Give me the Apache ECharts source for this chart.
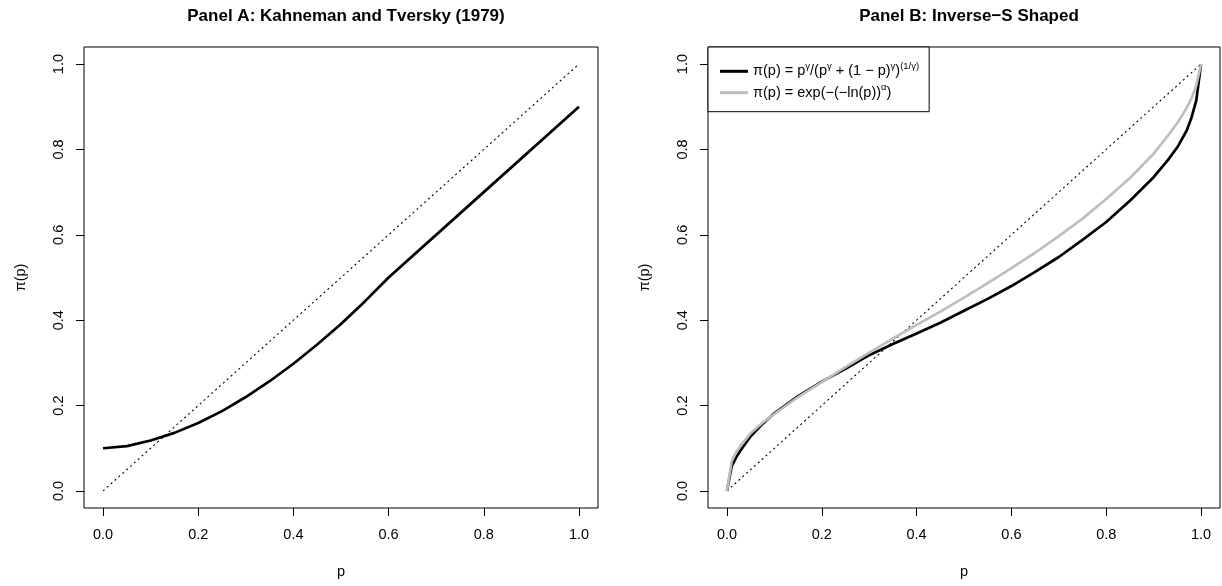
<!DOCTYPE html>
<html>
<head>
<meta charset="utf-8">
<script src="https://cdn.jsdelivr.net/npm/echarts@6/dist/echarts.min.js"></script>
<style>
  body { margin: 0; background: #fff; }
  #weighting { width: 1222px; height: 586px; }
</style>
</head>
<body>
<div id="weighting"></div>
<script>
// tick values shared by both panels
var tickValues = [0, 0.2, 0.4, 0.6, 0.8, 1.0];

// Panel A: Kahneman and Tversky (1979)
var ktP  = [0, 0.05, 0.10, 0.15, 0.20, 0.25, 0.30, 0.35, 0.40, 0.45, 0.50, 0.55, 0.60, 0.80, 1.00];
var ktPi = [0.100, 0.105, 0.118, 0.136, 0.159, 0.187, 0.220, 0.257, 0.298, 0.343, 0.391, 0.444, 0.500, 0.700, 0.900];

// Panel B: inverse-S curves
var invP     = [0, 0.01, 0.02, 0.03, 0.05, 0.075, 0.10, 0.15, 0.20, 0.25, 0.30, 0.35, 0.40, 0.45, 0.50, 0.55, 0.60, 0.65, 0.70, 0.75, 0.80, 0.85, 0.90, 0.93, 0.95, 0.97, 0.98, 0.99, 1.00];
var tkPi     = [0, 0.058, 0.080, 0.097, 0.128, 0.157, 0.182, 0.222, 0.256, 0.286, 0.318, 0.344, 0.369, 0.394, 0.422, 0.450, 0.480, 0.513, 0.548, 0.588, 0.630, 0.680, 0.735, 0.775, 0.805, 0.845, 0.875, 0.915, 1.000];
var prelecPi = [0, 0.070, 0.092, 0.108, 0.135, 0.160, 0.180, 0.220, 0.255, 0.290, 0.324, 0.357, 0.389, 0.420, 0.453, 0.487, 0.522, 0.558, 0.597, 0.638, 0.684, 0.733, 0.790, 0.832, 0.862, 0.898, 0.920, 0.950, 1.000];

// 45 degree reference line
var diagP = [0, 1];

function pairs(xs, ys) {
    return xs.map(function (x, i) { return [x, ys[i]]; });
}

var FONT = '"Liberation Sans", Arial, Helvetica, sans-serif';
var chart = echarts.init(document.getElementById('weighting'));

function makeAxis(idx, isX) {
    return {
        type: 'value',
        gridIndex: idx,
        min: -0.04,
        max: 1.04,
        name: isX ? 'p' : 'π(p)',
        nameLocation: 'middle',
        nameGap: 56,
        nameTextStyle: { fontFamily: FONT, fontSize: 14.5, color: '#000' },
        axisLine: { show: false, onZero: false },
        axisTick: {
            show: true, inside: false, length: 8,
            customValues: tickValues,
            lineStyle: { color: '#000', width: 1 }
        },
        axisLabel: {
            customValues: tickValues,
            rotate: isX ? 0 : 90,
            margin: isX ? 19 : 18,
            fontFamily: FONT, fontSize: 14.5, color: '#000',
            formatter: function (v) { return v.toFixed(1); }
        },
        splitLine: { show: false }
    };
}

var option = {
    animation: false,
    backgroundColor: '#fff',
    title: [
        {
            text: 'Panel A: Kahneman and Tversky (1979)',
            left: 341, top: 3, textAlign: 'center',
            textStyle: { fontFamily: FONT, fontSize: 17, fontWeight: 'bold', color: '#000' }
        },
        {
            text: 'Panel B: Inverse−S Shaped',
            left: 964, top: 3, textAlign: 'center',
            textStyle: { fontFamily: FONT, fontSize: 17, fontWeight: 'bold', color: '#000' }
        }
    ],
    grid: [
        { left: 84, top: 47, width: 514, height: 461, show: true, borderColor: '#000', borderWidth: 1, backgroundColor: 'transparent' },
        { left: 708, top: 47, width: 512, height: 461, show: true, borderColor: '#000', borderWidth: 1, backgroundColor: 'transparent' }
    ],
    xAxis: [makeAxis(0, true), makeAxis(1, true)],
    yAxis: [makeAxis(0, false), makeAxis(1, false)],
    legend: {
        data: [{ name: 'tk', icon: 'rect' }, { name: 'prelec', icon: 'rect' }],
        orient: 'vertical',
        left: 708, top: 47,
        padding: [14, 10, 11.5, 12],
        itemGap: 3.6,
        itemWidth: 28,
        itemHeight: 3,
        borderColor: '#000',
        borderWidth: 1,
        borderRadius: 0,
        backgroundColor: '#fff',
        formatter: function (name) {
            if (name === 'tk') {
                return '{t|π(p) = p}{s|γ}{t|/(p}{s|γ}{t| + (1 − p)}{s|γ}{t|)}{s|(1/γ)}';
            }
            return '{t|π(p) = exp(−(−ln(p))}{s|α}{t|)}';
        },
        textStyle: {
            fontFamily: FONT,
            color: '#000',
            rich: {
                t: { fontFamily: FONT, fontSize: 14.5, lineHeight: 20.6, color: '#000' },
                s: { fontFamily: FONT, fontSize: 9.5, lineHeight: 12, verticalAlign: 'top', color: '#000' }
            }
        }
    },
    series: [
        {
            type: 'line', xAxisIndex: 0, yAxisIndex: 0,
            data: pairs(diagP, diagP), showSymbol: false, symbol: 'none', silent: true,
            lineStyle: { color: '#000', width: 1.1, type: [2, 3.2] }
        },
        {
            type: 'line', xAxisIndex: 0, yAxisIndex: 0,
            data: pairs(ktP, ktPi), showSymbol: false, symbol: 'none',
            lineStyle: { color: '#000', width: 2.7 }
        },
        {
            type: 'line', xAxisIndex: 1, yAxisIndex: 1,
            data: pairs(diagP, diagP), showSymbol: false, symbol: 'none', silent: true,
            lineStyle: { color: '#000', width: 1.1, type: [2, 3.2] }
        },
        {
            name: 'tk',
            type: 'line', xAxisIndex: 1, yAxisIndex: 1,
            data: pairs(invP, tkPi), showSymbol: false, symbol: 'none',
            itemStyle: { color: '#000' },
            lineStyle: { color: '#000', width: 2.7 }
        },
        {
            name: 'prelec',
            type: 'line', xAxisIndex: 1, yAxisIndex: 1,
            data: pairs(invP, prelecPi), showSymbol: false, symbol: 'none',
            itemStyle: { color: '#BEBEBE' },
            lineStyle: { color: '#BEBEBE', width: 2.7 }
        }
    ]
};

chart.setOption(option);
window.addEventListener('resize', function () {
    chart.resize();
});
</script>
</body>
</html>
